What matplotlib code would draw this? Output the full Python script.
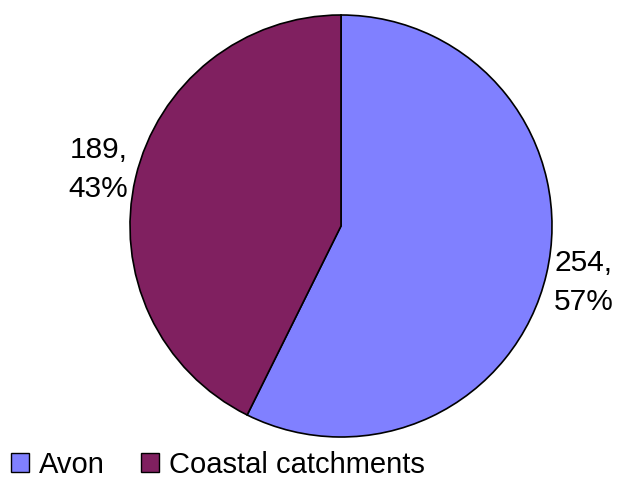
import matplotlib
matplotlib.use("Agg")
import matplotlib.pyplot as plt
from matplotlib.patches import Patch

categories = ["Avon", "Coastal catchments"]
values = [254, 189]
colors = ["#8080FF", "#802060"]

plt.rcParams["font.family"] = ["Liberation Sans", "DejaVu Sans"]

fig = plt.figure(figsize=(6.21, 4.78), dpi=100)
W, H = 621, 478
cx, cy, r = 341, 226, 211
ax = fig.add_axes([(cx - r) / W, (H - cy - r) / H, 2 * r / W, 2 * r / H])

total = sum(values)
labels = [f"{v},\n{round(100 * v / total)}%" for v in values]

ax.pie(values, colors=colors, startangle=90, counterclock=False,
       labels=labels, labeldistance=1.18, radius=1,
       wedgeprops=dict(edgecolor="black", linewidth=1.2),
       textprops=dict(ha="center", va="center", fontsize=21.5, linespacing=1.5))
ax.set_xlim(-1, 1)
ax.set_ylim(-1, 1)
ax.set_aspect("equal")
ax.axis("off")

handles = [Patch(facecolor=c, edgecolor="black", linewidth=1.0) for c in colors]
fig.legend(handles, categories, loc="center left", bbox_to_anchor=(0.018, 0.028),
           ncol=2, frameon=False, fontsize=21, handlelength=0.62, handleheight=0.62,
           handletextpad=0.33, columnspacing=1.25, borderaxespad=0, borderpad=0)

fig.savefig("out.png", dpi=100)
